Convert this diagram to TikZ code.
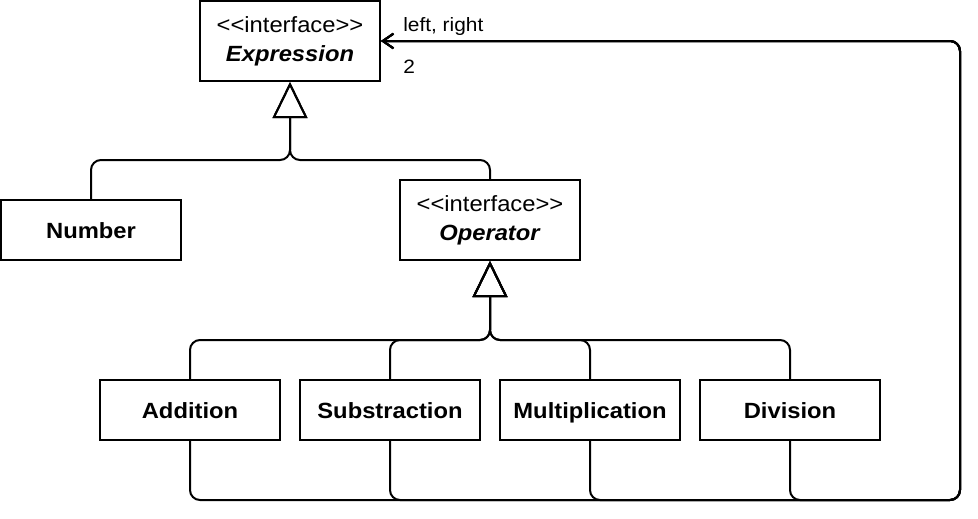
\documentclass[tikz,border=0pt]{standalone}
\usepackage{fontspec}
\usetikzlibrary{positioning,arrows.meta}
\newfontfamily\umlfont{Liberation Sans}[FakeStretch=1.08]
\newcommand\umlsize{\umlfont\fontsize{16.5}{21.5}\selectfont}
\newcommand\rotsize{\umlfont\fontsize{14.5}{17}\selectfont}

\begin{document}
\begin{tikzpicture}[
  x=0.75pt, y=-0.75pt,
  classe/.style={draw, line width=1.5pt, minimum width=135pt, minimum height=45pt, inner sep=0pt, align=center, text height=14pt, text depth=1.5pt, font=\umlsize\bfseries},
  interf/.style={draw, line width=1.5pt, minimum width=135pt, minimum height=60pt, inner sep=0pt, align=center, font=\umlsize},
  heranca/.style={line width=1.5pt, rounded corners=7.5pt, -{Triangle[open, length=27pt, width=26pt, line width=1.5pt]}},
  assoc/.style={line width=1.5pt, rounded corners=7.5pt, -{Straight Barb[length=8pt, width=11pt, line width=1.5pt]}},
  rotulo/.style={font=\rotsize, anchor=base west, inner sep=0pt}]
\useasboundingbox (0,0) rectangle (978,518);
% ---- interfaces
\node[interf] (expr) at (290,41) {<<interface>>\\\textbf{\textit{Expression}}};
\node[interf] (op) at (490,220) {<<interface>>\\\textbf{\textit{Operator}}};
% ---- classes
\node[classe] (num) at (91,230) {Number};
\node[classe] (add) at (190,410) {Addition};
\node[classe] (sub) at (390,410) {Substraction};
\node[classe] (mul) at (590,410) {Multiplication};
\node[classe] (div) at (790,410) {Division};
% ---- pontos de juncao
\coordinate (je) at (290,160);
\coordinate (jo) at (490,340);
\coordinate (cb) at (960,500);
% ---- heranca
\draw[heranca] (num.north) |- (je) -- (expr.south);
\draw[heranca] (op.north) |- (je) -- (expr.south);
\foreach \c in {add,sub,mul,div}
  \draw[heranca] (\c.north) |- (jo) -- (op.south);
% ---- associacao left, right
\foreach \c in {add,sub,mul,div}
  \draw[assoc] (\c.south) |- (cb) |- (expr.east);
\node[rotulo] (papel) at (403,31) {left, right};
\node[rotulo] (mult) at (403,73) {2};
\end{tikzpicture}
\end{document}
